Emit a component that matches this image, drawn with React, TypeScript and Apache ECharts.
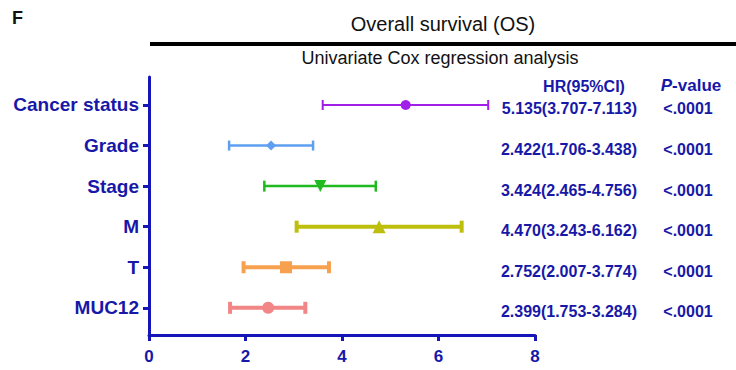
import React, { useEffect, useRef } from 'react';
import * as echarts from 'echarts';

const categories = ['Cancer status', 'Grade', 'Stage', 'M', 'T', 'MUC12'];
const hrPoint = [5.32, 2.53, 3.55, 4.77, 2.84, 2.47];
const ciLower = [3.6, 1.66, 2.39, 3.06, 1.96, 1.68];
const ciUpper = [7.03, 3.4, 4.7, 6.48, 3.73, 3.24];
const hrLabels = [
  '5.135(3.707-7.113)',
  '2.422(1.706-3.438)',
  '3.424(2.465-4.756)',
  '4.470(3.243-6.162)',
  '2.752(2.007-3.774)',
  '2.399(1.753-3.284)',
];
const pLabels = ['<.0001', '<.0001', '<.0001', '<.0001', '<.0001', '<.0001'];
const xTicks = [0, 2, 4, 6, 8];

const colors = ['#A21FE8', '#5E9FF2', '#1FBA1F', '#BEBE0C', '#F7A04E', '#F28585'];
const symbols = ['circle', 'diamond', 'triangle', 'triangle', 'rect', 'circle'];
const rotations = [0, 0, 180, 0, 0, 0];
const symbolSizes = [10, 10, 12, 13, 12, 12];
const lineWidths = [2, 2.5, 2.5, 4, 4, 4];
const capHeights = [10, 10, 11, 12, 12, 12];

const FONT = 'Arial, "Liberation Sans", Helvetica, sans-serif';
const BLUE_TEXT = '#1818A8';
const BLUE_AXIS = '#1515B8';

export default function App() {
  const ref = useRef<HTMLDivElement>(null);

  useEffect(() => {
    if (!ref.current) return;
    const chart = echarts.init(ref.current, undefined, { renderer: 'svg' });
    const n = categories.length;
    const yPos = (i: number) => n - i;

    const option: any = {
      animation: false,
      backgroundColor: '#ffffff',
      grid: { left: 149, right: 201, top: 77, bottom: 35, containLabel: false },
      xAxis: {
        type: 'value',
        min: xTicks[0],
        max: xTicks[xTicks.length - 1],
        interval: 2,
        splitLine: { show: false },
        axisLine: { show: true, lineStyle: { color: BLUE_AXIS, width: 3 } },
        axisTick: { show: true, length: 6, lineStyle: { color: BLUE_AXIS, width: 3 } },
        axisLabel: {
          color: BLUE_TEXT,
          fontFamily: FONT,
          fontWeight: 'bold',
          fontSize: 17,
          margin: 13,
        },
      },
      yAxis: {
        type: 'value',
        min: 0.33,
        max: 6.69,
        splitLine: { show: false },
        axisLine: { show: true, onZero: false, lineStyle: { color: BLUE_AXIS, width: 3 } },
        axisTick: {
          show: true,
          length: 6,
          customValues: categories.map((_, i) => yPos(i)),
          lineStyle: { color: BLUE_AXIS, width: 3 },
        },
        axisLabel: {
          customValues: categories.map((_, i) => yPos(i)),
          formatter: (v: number) => categories[n - Math.round(v)] ?? '',
          color: BLUE_TEXT,
          fontFamily: FONT,
          fontWeight: 'bold',
          fontSize: 19,
          margin: 10,
        },
      },
      graphic: [
        {
          type: 'text',
          x: 12,
          y: 18,
          style: { text: 'F', font: `bold 18px ${FONT}`, fill: '#111', textVerticalAlign: 'middle' },
        },
        {
          type: 'text',
          x: 443,
          y: 24,
          style: {
            text: 'Overall survival (OS)',
            font: `20px ${FONT}`,
            fill: '#111',
            textAlign: 'center',
            textVerticalAlign: 'middle',
          },
        },
        {
          type: 'line',
          shape: { x1: 150, y1: 44, x2: 736, y2: 44 },
          style: { stroke: '#000', lineWidth: 4 },
        },
        {
          type: 'text',
          x: 440,
          y: 58,
          style: {
            text: 'Univariate Cox regression analysis',
            font: `18px ${FONT}`,
            fill: '#111',
            textAlign: 'center',
            textVerticalAlign: 'middle',
          },
        },
        {
          type: 'text',
          x: 584,
          y: 86,
          style: {
            text: 'HR(95%CI)',
            font: `bold 16px ${FONT}`,
            fill: BLUE_TEXT,
            textAlign: 'center',
            textVerticalAlign: 'middle',
          },
        },
        {
          type: 'text',
          x: 691,
          y: 85,
          style: {
            text: '{i|P}{n|-value}',
            textAlign: 'center',
            textVerticalAlign: 'middle',
            rich: {
              i: { font: `italic bold 17px ${FONT}`, fill: BLUE_TEXT },
              n: { font: `bold 17px ${FONT}`, fill: BLUE_TEXT },
            },
          },
        },
      ],
      series: [
        {
          type: 'custom',
          name: 'ci',
          z: 2,
          data: categories.map((_, i) => [ciLower[i], ciUpper[i], yPos(i)]),
          encode: { x: [0, 1], y: 2 },
          renderItem: (params: any, api: any) => {
            const idx = params.dataIndex;
            const p1 = api.coord([api.value(0), api.value(2)]);
            const p2 = api.coord([api.value(1), api.value(2)]);
            const c = colors[idx];
            const lw = lineWidths[idx];
            const h = capHeights[idx] / 2;
            const st = { stroke: c, lineWidth: lw };
            return {
              type: 'group',
              children: [
                { type: 'line', shape: { x1: p1[0], y1: p1[1], x2: p2[0], y2: p2[1] }, style: st },
                { type: 'line', shape: { x1: p1[0], y1: p1[1] - h, x2: p1[0], y2: p1[1] + h }, style: st },
                { type: 'line', shape: { x1: p2[0], y1: p2[1] - h, x2: p2[0], y2: p2[1] + h }, style: st },
              ],
            };
          },
        },
        {
          type: 'scatter',
          name: 'hr',
          z: 3,
          data: categories.map((_, i) => ({
            value: [hrPoint[i], yPos(i)],
            symbol: symbols[i],
            symbolRotate: rotations[i],
            symbolSize: symbolSizes[i],
            itemStyle: { color: colors[i], opacity: 1 },
          })),
        },
        {
          type: 'custom',
          name: 'table',
          z: 4,
          clip: false,
          data: categories.map((_, i) => [0, yPos(i)]),
          encode: { x: 0, y: 1 },
          renderItem: (params: any, api: any) => {
            const idx = params.dataIndex;
            const p = api.coord([0, api.value(1)]);
            const y = p[1] + 4;
            return {
              type: 'group',
              children: [
                {
                  type: 'text',
                  x: 637,
                  y,
                  style: {
                    text: hrLabels[idx],
                    font: `bold 16px ${FONT}`,
                    fill: BLUE_TEXT,
                    textAlign: 'right',
                    textVerticalAlign: 'middle',
                  },
                },
                {
                  type: 'text',
                  x: 688,
                  y,
                  style: {
                    text: pLabels[idx],
                    font: `bold 16px ${FONT}`,
                    fill: BLUE_TEXT,
                    textAlign: 'center',
                    textVerticalAlign: 'middle',
                  },
                },
              ],
            };
          },
        },
      ],
    };

    chart.setOption(option);
    return () => chart.dispose();
  }, []);

  return (
    <div
      ref={ref}
      style={{ position: 'fixed', left: 0, top: 0, width: 736, height: 370, background: '#fff' }}
    />
  );
}
